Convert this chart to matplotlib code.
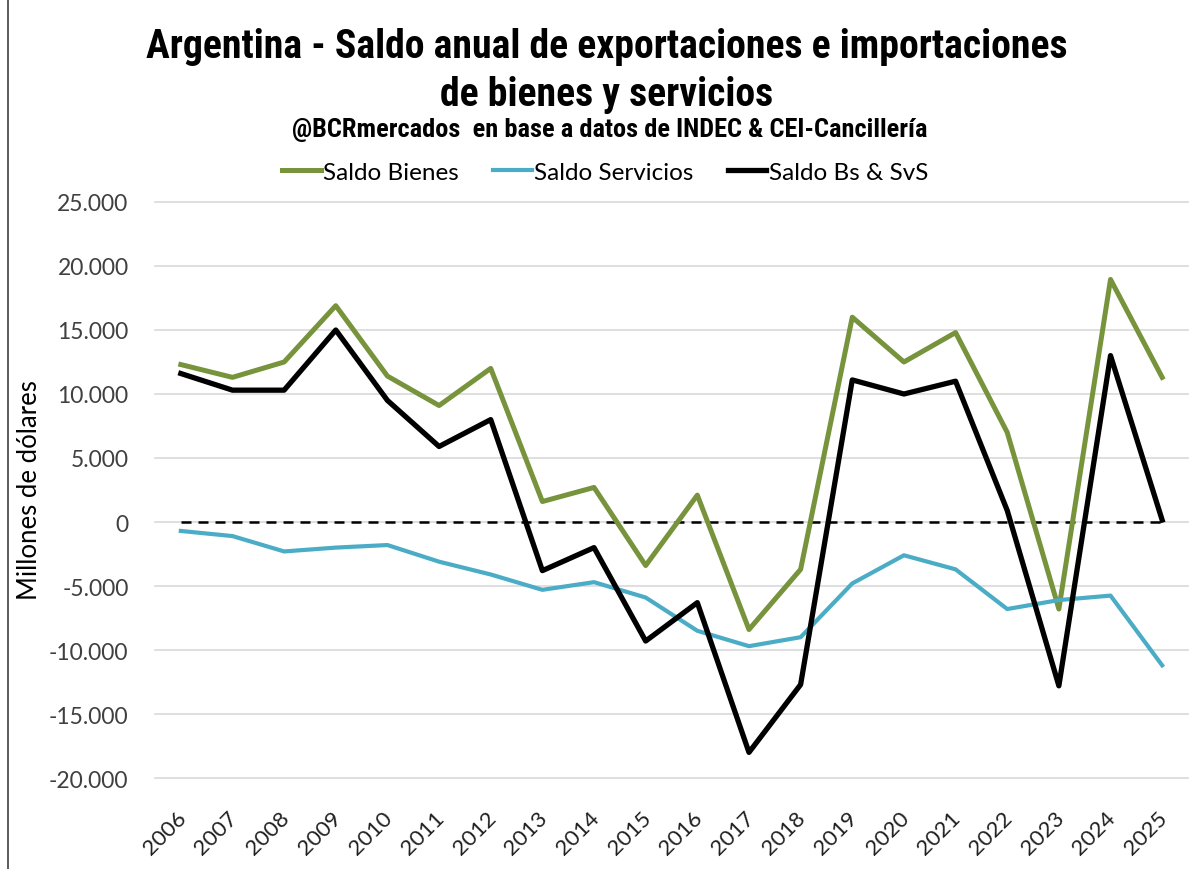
import matplotlib.pyplot as plt
from matplotlib import font_manager
from matplotlib.lines import Line2D
from matplotlib.ticker import FuncFormatter
from matplotlib.transforms import ScaledTranslation
import numpy as np

years = ["2006", "2007", "2008", "2009", "2010", "2011", "2012", "2013", "2014", "2015",
         "2016", "2017", "2018", "2019", "2020", "2021", "2022", "2023", "2024", "2025"]

# Millones de dolares
saldo_bienes = [12300, 11300, 12500, 16900, 11400, 9100, 12000, 1600, 2700, -3400,
                2100, -8400, -3700, 16000, 12500, 14800, 7000, -6800, 18950, 11300]
saldo_servicios = [-700, -1100, -2300, -2000, -1800, -3100, -4100, -5300, -4700, -5900,
                   -8500, -9700, -9000, -4800, -2600, -3700, -6800, -6100, -5750, -11200]
saldo_total = [11600, 10300, 10300, 15000, 9500, 5900, 8000, -3800, -2000, -9300,
               -6300, -18000, -12700, 11100, 10000, 11000, 900, -12800, 13000, 150]
cero = [0] * len(years)


def first_font(names):
    # pick the first family that is really installed
    for n in names:
        try:
            font_manager.findfont(font_manager.FontProperties(family=n),
                                  fallback_to_default=False)
            return n
        except Exception:
            pass
    return "DejaVu Sans"


title_font = first_font(["Liberation Sans Narrow", "Arial Narrow", "DejaVu Sans Condensed",
                         "Roboto Condensed", "Open Sans Condensed", "Liberation Sans"])
body_font = ["Lato", "DejaVu Sans"]

fig = plt.figure(figsize=(12.01, 8.70), dpi=100)
ax = fig.add_axes([155 / 1201, 1 - 779 / 870, 1033 / 1201, 576 / 870])

x = np.arange(len(years))
ax.plot(x, cero, color="black", lw=1.8, ls=(0, (4, 2.8)), zorder=2)
ax.plot(x, saldo_bienes, color="#77933C", lw=3.6, label="Saldo Bienes", zorder=3)
ax.plot(x, saldo_servicios, color="#4BACC6", lw=3.0, label="Saldo Servicios", zorder=3)
ax.plot(x, saldo_total, color="black", lw=3.8, label="Saldo Bs & SvS", zorder=4)

ax.set_xlim(-0.5, len(years) - 0.5)
ax.set_ylim(-20000, 25000)
ax.set_yticks(np.arange(-20000, 25001, 5000))
ax.yaxis.set_major_formatter(FuncFormatter(lambda v, p: f"{int(v):,}".replace(",", ".")))
ax.set_xticks(x)
ax.set_xticklabels(years, rotation=45, ha="right", va="top", rotation_mode="anchor")
ax.tick_params(length=0)
ax.tick_params(axis="y", pad=19, labelsize=16.5, labelcolor="#404040")
ax.tick_params(axis="x", pad=21, labelsize=16, labelcolor="#202020")
shift = ScaledTranslation(-5 / 100, 0, fig.dpi_scale_trans)
for lab in ax.get_xticklabels():
    lab.set_family(body_font)
    lab.set_transform(lab.get_transform() + shift)
for lab in ax.get_yticklabels():
    lab.set_family(body_font)
ax.grid(axis="y", color="#D9D9D9", lw=1.2)
for gl in ax.get_ygridlines():
    gl.set_clip_on(False)
ax.set_axisbelow(True)
for s in ax.spines.values():
    s.set_visible(False)

fig.text(30 / 1201, 1 - 490 / 870, "Millones de dólares", rotation=90, ha="center",
         va="center", fontsize=18.5, family=body_font)

t1 = fig.text(607 / 1201, 1 - 58 / 870, "Argentina - Saldo anual de exportaciones e importaciones",
              ha="center", va="baseline", fontsize=26, fontweight="bold", family=title_font)
t2 = fig.text(607 / 1201, 1 - 106 / 870, "de bienes y servicios",
              ha="center", va="baseline", fontsize=26, fontweight="bold", family=title_font)
t3 = fig.text(610 / 1201, 1 - 137 / 870, "@BCRmercados  en base a datos de INDEC & CEI-Cancillería",
              ha="center", va="baseline", fontsize=14, fontweight="bold", family=title_font)

# scale the title texts to the widths they have in the source picture
fig.canvas.draw()
r = fig.canvas.get_renderer()
w1 = t1.get_window_extent(r).width
s1 = 26 * 923 / w1
t1.set_fontsize(s1)
t2.set_fontsize(s1)
w3 = t3.get_window_extent(r).width
t3.set_fontsize(14 * 638 / w3)

fig.legend(loc="center", bbox_to_anchor=(605 / 1201, 1 - 173 / 870), ncol=3, frameon=False,
           handlelength=1.6, handletextpad=0.1, columnspacing=1.4,
           prop={"family": body_font, "size": 17.5})

fig.add_artist(Line2D([8 / 1201, 8 / 1201], [0, 1], color="#404040", lw=1.2))

fig.savefig("out.png", dpi=100)
